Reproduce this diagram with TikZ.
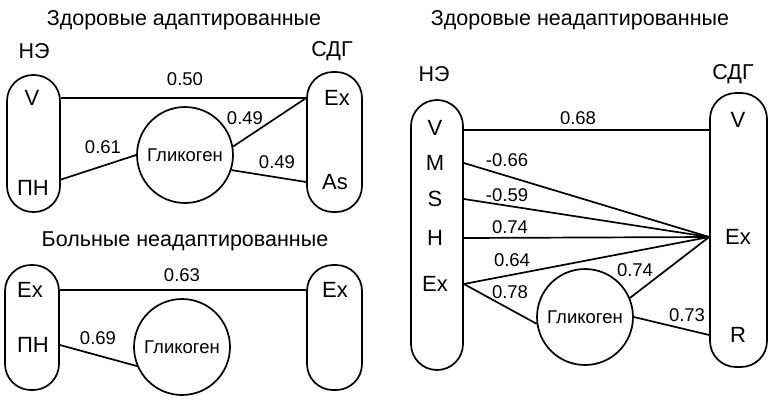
\documentclass[tikz,border=0pt]{standalone}
\usepackage{fontspec}
\setmainfont{Liberation Sans}
\begin{document}
\begin{tikzpicture}[x=1pt, y=-1pt, line width=1.7pt,
    caps/.style={draw, rounded corners=26pt, minimum width=53pt, inner sep=0pt},
    gly/.style={draw, circle, minimum size=96pt, inner sep=0pt, font=\fontsize{18.5}{20}\selectfont},
    var/.style={font=\fontsize{22}{24}\selectfont, inner sep=0pt},
    head/.style={font=\fontsize{21.5}{24}\selectfont},
    coef/.style={font=\fontsize{18.5}{20}\selectfont, inner sep=0pt}]
  \useasboundingbox (0,0) rectangle (777,402);

  % healthy, adapted
  \node[head] (tA) at (184,20) {Здоровые адаптированные};
  \node[head] (neA) at (34,51) {НЭ};
  \node[head] (sdgA) at (332,51) {СДГ};
  \node[caps, minimum height=137pt] (lA) at (33.5,143.5) {};
  \node[caps, minimum height=140pt, minimum width=55pt] (rA) at (334.5,142) {};
  \node[var] (vA) at (32,98) {V};
  \node[var] (pnA) at (33,188) {ПН};
  \node[var] (exA) at (337,98) {Ex};
  \node[var] (asA) at (335,182) {As};
  \node[gly] (gA) at (185,155) {Гликоген};
  \draw (lA.east |- vA) -- (rA.west |- vA);
  \draw (lA.east |- pnA.north) -- (gA.west);
  \draw (gA.10) -- (rA.west |- exA);
  \draw (gA.-18) -- (rA.west |- asA);
  \node[coef] (kA1) at (185,79) {0.50};
  \node[coef] (kA2) at (103,147) {0.61};
  \node[coef] (kA3) at (245,118) {0.49};
  \node[coef] (kA4) at (277,162) {0.49};

  % ill, not adapted
  \node[head] (tB) at (185,241) {Больные неадаптированные};
  \node[caps, minimum height=125pt, minimum width=54pt] (lB) at (32,327.5) {};
  \node[caps, minimum height=125pt, minimum width=55pt] (rB) at (334.5,327.5) {};
  \node[var] (exBl) at (30,290) {Ex};
  \node[var] (pnB) at (33,345) {ПН};
  \node[var] (exBr) at (335,290) {Ex};
  \node[gly] (gB) at (182,347) {Гликоген};
  \draw (lB.east |- exBl) -- (rB.west |- exBr);
  \draw (lB.east |- pnB) -- (gB.203);
  \node[coef] (kB1) at (182,275) {0.63};
  \node[coef] (kB2) at (98,338) {0.69};

  % healthy, not adapted
  \node[head] (tC) at (580,20) {Здоровые неадаптированные};
  \node[head] (neC) at (434,74) {НЭ};
  \node[head] (sdgC) at (733,74) {СДГ};
  \node[caps, minimum height=270pt, minimum width=52pt] (lC) at (437,235) {};
  \node[caps, minimum height=274pt, minimum width=57pt] (rC) at (738.5,230) {};
  \foreach \n/\t/\y in {vC/V/128, mC/M/163, sC/S/199, hC/H/238, exC/Ex/284}
    \node[var] (\n) at (435,\y) {\t};
  \node[var] (vCr) at (738,120) {V};
  \node[var] (exCr) at (738,237) {Ex};
  \node[var] (rCr) at (738,335) {R};
  \coordinate (hub) at (rC.west |- exCr);
  \node[gly] (gC) at (585,317) {Гликоген};
  \draw ([yshift=-2pt]lC.east |- vC) -- ([yshift=-2pt]rC.west |- vC);
  \foreach \n in {mC, sC, hC, exC}
    \draw (lC.east |- \n) -- (hub);
  \draw (lC.east |- exC) -- (gC.188);
  \draw (gC.23) -- (hub);
  \draw (gC.0) -- (rC.west |- rCr);
  \node[coef] (kC1) at (578,118) {0.68};
  \node[coef] (kC2) at (507,160) {-0.66};
  \node[coef] (kC3) at (507,195) {-0.59};
  \node[coef] (kC4) at (510,227) {0.74};
  \node[coef] (kC5) at (512,260) {0.64};
  \node[coef] (kC6) at (510,292) {0.78};
  \node[coef] (kC7) at (635,270) {0.74};
  \node[coef] (kC8) at (687,315) {0.73};
\end{tikzpicture}
\end{document}
